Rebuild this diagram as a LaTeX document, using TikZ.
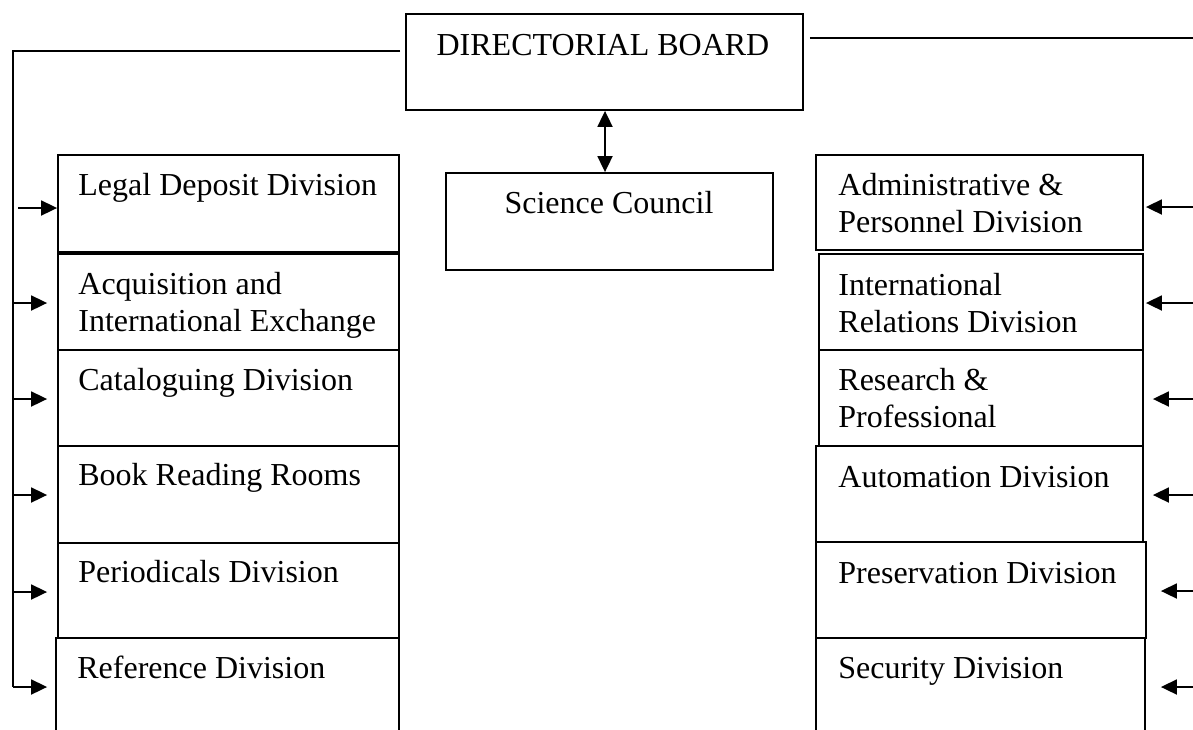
\documentclass[tikz,border=0pt]{standalone}
\usepackage{fontspec}
\setmainfont{Liberation Serif}
\usetikzlibrary{arrows.meta,fit}
\begin{document}
\begin{tikzpicture}[x=0.5pt,y=-0.5pt,
  box/.style={draw, line width=0.9pt, inner sep=0pt, rectangle},
  lbl/.style={anchor=base west, inner sep=0pt, font=\fontsize{16}{18.5}\selectfont, align=left},
  ctr/.style={anchor=base, inner sep=0pt, font=\fontsize{16}{18.5}\selectfont},
  conn/.style={line width=0.9pt},
  tip/.style={-{Triangle[length=8pt,width=7.5pt]}},
  arr/.style={conn, tip}]
\useasboundingbox (0,0) rectangle (1193,729);
\clip (0,0) rectangle (1193,729);
% top boxes
\node[box, fit={(406,14) (803,110)}] (board) {};
\node[ctr] (boardt) at (603,55) {DIRECTORIAL BOARD};
\node[box, fit={(446,173) (773,270)}] (council) {};
\node[ctr] (councilt) at (609,213) {Science Council};
% left column
\node[box, fit={(58,155) (399,252)}] (legal) {};
\node[box, fit={(58,254) (399,350)}] (acq) {};
\node[box, fit={(58,350) (399,446)}] (cat) {};
\node[box, fit={(58,446) (399,543)}] (book) {};
\node[box, fit={(58,543) (399,638)}] (per) {};
\node[box, fit={(56,638) (399,745)}] (ref) {};
\node[lbl] (legalt) at (78,195) {Legal Deposit Division};
\node[lbl] (acqt) at (78,331) {Acquisition and\\International Exchange};
\node[lbl] (catt) at (78,390) {Cataloguing Division};
\node[lbl] (bookt) at (78,485) {Book Reading Rooms};
\node[lbl] (pert) at (78,582) {Periodicals Division};
\node[lbl] (reft) at (77,678) {Reference Division};
% right column
\node[box, fit={(816,155) (1143,250)}] (admin) {};
\node[box, fit={(819,254) (1143,350)}] (intl) {};
\node[box, fit={(819,350) (1143,446)}] (res) {};
\node[box, fit={(816,446) (1143,542)}] (auto) {};
\node[box, fit={(816,542) (1146,638)}] (pres) {};
\node[box, fit={(816,638) (1145,745)}] (sec) {};
\node[lbl] (admint) at (838,232) {Administrative \&\\Personnel Division};
\node[lbl] (intlt) at (838,332) {International\\Relations Division};
\node[lbl] (rest) at (838,427) {Research \&\\Professional};
\node[lbl] (autot) at (838,487) {Automation Division};
\node[lbl] (prest) at (838,583) {Preservation Division};
\node[lbl] (sect) at (838,678) {Security Division};
% coordinates
\coordinate (tl) at (13,51);
\coordinate (bl) at (13,687);
\coordinate (tr) at (1193,38);
\coordinate (mid) at (605,0);
\coordinate (l1) at (18,208);
\coordinate (l2) at (0,303);
\coordinate (l3) at (0,399);
\coordinate (l4) at (0,495);
\coordinate (l5) at (0,592);
\coordinate (r1) at (1193,207);
\coordinate (r2) at (1193,303);
\coordinate (r3) at (1193,399);
\coordinate (r4) at (1193,495);
\coordinate (r5) at (1193,591);
\coordinate (r6) at (1193,687);
% connectors
\draw[conn] ([xshift=-2.5pt]board.west |- tl) -- (tl) -- (bl);
\draw[arr, shorten >=4pt] (bl) -- (ref.west |- bl);
\draw[arr] (l1) -- (legal.west |- l1);
\draw[arr, shorten >=5pt] (tl |- l2) -- (acq.west |- l2);
\draw[arr, shorten >=5pt] (tl |- l3) -- (cat.west |- l3);
\draw[arr, shorten >=5pt] (tl |- l4) -- (book.west |- l4);
\draw[arr, shorten >=5pt] (tl |- l5) -- (per.west |- l5);
\draw[conn] ([xshift=3pt]board.east |- tr) -- (tr);
\draw[arr, shorten >=1pt] (r1) -- (admin.east |- r1);
\draw[arr, shorten >=1pt] (r2) -- (intl.east |- r2);
\draw[arr, shorten >=4.5pt] (r3) -- (res.east |- r3);
\draw[arr, shorten >=4.5pt] (r4) -- (auto.east |- r4);
\draw[arr, shorten >=7pt] (r5) -- (pres.east |- r5);
\draw[arr, shorten >=7.5pt] (r6) -- (sec.east |- r6);
\draw[conn, {Triangle[length=8pt,width=7.5pt]}-{Triangle[length=8pt,width=7.5pt]}] (board.south -| mid) -- (council.north -| mid);
\end{tikzpicture}
\end{document}
